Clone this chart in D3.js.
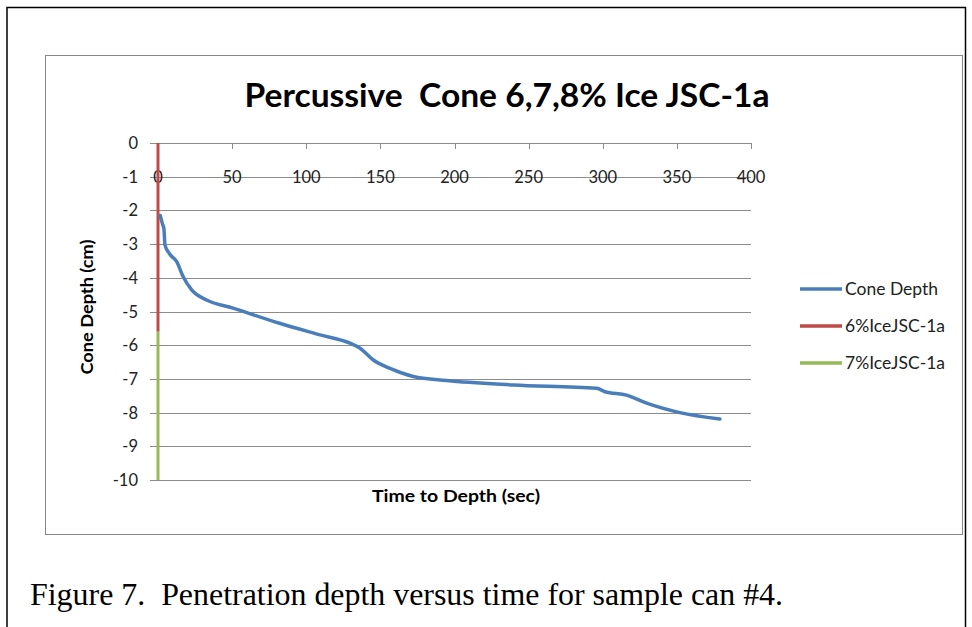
<!DOCTYPE html>
<html>
<head>
<meta charset="utf-8">
<script src="https://cdn.jsdelivr.net/npm/d3@7"></script>
<style>
  body { margin: 0; background: #fff; }
  svg text { font-family: Lato, "Open Sans", sans-serif; }
</style>
</head>
<body>
<div id="chart"></div>
<script>
// data
const coneTime  = [1.5, 3, 4, 4.7, 8, 12.6, 17, 22.7, 32.8, 50.6, 82, 110, 129.5, 136.3, 145.2, 156.5, 172.2, 194.7, 239.7, 295.9, 301.5, 316.1, 329.6, 352, 379];
const coneDepth = [-2.15, -2.4, -2.55, -3.03, -3.3, -3.52, -3.97, -4.36, -4.66, -4.9, -5.35, -5.7, -5.94, -6.09, -6.44, -6.69, -6.93, -7.05, -7.18, -7.28, -7.38, -7.48, -7.72, -8.0, -8.19];
const ice6Time  = [0, 0];
const ice6Depth = [0, -5.6];
const ice7Time  = [0, 0];
const ice7Depth = [-5.6, -10];

const xTicks = [0, 50, 100, 150, 200, 250, 300, 350, 400];
const yTicks = [0, -1, -2, -3, -4, -5, -6, -7, -8, -9, -10];
const seriesNames  = ["Cone Depth", "6%IceJSC-1a", "7%IceJSC-1a"];
const seriesColors = ["#4a7ebb", "#be4b48", "#98b954"];

const W = 972, H = 627;
const svg = d3.select("#chart").append("svg").attr("width", W).attr("height", H);

// page frame
svg.append("path").attr("d", "M7,627 V7.5 H965.5 V627")
  .attr("fill", "none").attr("stroke", "#000").attr("stroke-width", 1.5);

// chart area box
svg.append("rect").attr("x", 45.5).attr("y", 55.5).attr("width", 917).attr("height", 479)
  .attr("fill", "#fff").attr("stroke", "#868686").attr("stroke-width", 1);

const x = d3.scaleLinear().domain([0, 400]).range([158, 751]);
const y = d3.scaleLinear().domain([-10, 0]).range([480, 143]);

// horizontal gridlines
svg.append("g").selectAll("line").data(yTicks).enter().append("line")
  .attr("x1", 150).attr("x2", x(400))
  .attr("y1", d => Math.round(y(d)) + 0.5).attr("y2", d => Math.round(y(d)) + 0.5)
  .attr("stroke", "#8c8c8c").attr("stroke-width", 1);

// y labels
svg.append("g").selectAll("text").data(yTicks).enter().append("text")
  .attr("x", 138).attr("y", d => y(d) + 6)
  .attr("text-anchor", "end").attr("font-size", 16.5).attr("fill", "#222")
  .text(d => d);

// x axis ticks (axis sits at depth 0)
svg.append("g").selectAll("line").data(xTicks).enter().append("line")
  .attr("x1", d => Math.round(x(d)) + 0.5).attr("x2", d => Math.round(x(d)) + 0.5)
  .attr("y1", y(0)).attr("y2", y(0) + 6)
  .attr("stroke", "#8c8c8c");

svg.append("g").selectAll("text").data(xTicks).enter().append("text")
  .attr("x", d => x(d)).attr("y", y(-1) + 6)
  .attr("text-anchor", "middle").attr("font-size", 16.5).attr("fill", "#222")
  .text(d => d);

const line = d3.line().x(d => x(d[0])).y(d => y(d[1])).curve(d3.curveMonotoneX);
const vline = d3.line().x(d => x(d[0])).y(d => y(d[1]));

svg.append("path").datum(d3.zip(ice6Time, ice6Depth)).attr("d", vline)
  .attr("fill", "none").attr("stroke", seriesColors[1]).attr("stroke-width", 3);
svg.append("path").datum(d3.zip(ice7Time, ice7Depth)).attr("d", vline)
  .attr("fill", "none").attr("stroke", seriesColors[2]).attr("stroke-width", 3);
svg.append("path").datum(d3.zip(coneTime, coneDepth)).attr("d", line)
  .attr("fill", "none").attr("stroke", seriesColors[0]).attr("stroke-width", 3.5)
  .attr("stroke-linecap", "round").attr("stroke-linejoin", "round");

// title
svg.append("text").attr("x", 507).attr("y", 107).attr("text-anchor", "middle")
  .attr("font-size", 33).attr("font-weight", "bold").attr("fill", "#000")
  .attr("xml:space", "preserve")
  .attr("textLength", 525).attr("lengthAdjust", "spacingAndGlyphs")
  .text("Percussive  Cone 6,7,8% Ice JSC-1a");

// axis titles
svg.append("text").attr("x", 456).attr("y", 502).attr("text-anchor", "middle")
  .attr("font-size", 17).attr("font-weight", "bold").attr("fill", "#000")
  .attr("textLength", 168).attr("lengthAdjust", "spacingAndGlyphs")
  .text("Time to Depth (sec)");
svg.append("text").attr("transform", "translate(93,307) rotate(-90)").attr("text-anchor", "middle")
  .attr("font-size", 17).attr("font-weight", "bold").attr("fill", "#000")
  .attr("textLength", 135).attr("lengthAdjust", "spacingAndGlyphs")
  .text("Cone Depth (cm)");

// legend
const leg = svg.append("g").selectAll("g").data(seriesNames).enter().append("g")
  .attr("transform", (d, i) => `translate(800,${289 + i * 37})`);
leg.append("line").attr("x1", 0).attr("x2", 42).attr("y1", 0).attr("y2", 0)
  .attr("stroke", (d, i) => seriesColors[i]).attr("stroke-width", 3.5);
leg.append("text").attr("x", 45).attr("y", 6).attr("font-size", 17.5).attr("fill", "#222")
  .text(d => d);

// caption
svg.append("text").attr("x", 30).attr("y", 605)
  .style("font-family", "'Liberation Serif', 'Times New Roman', serif")
  .attr("font-size", 32).attr("fill", "#000").attr("xml:space", "preserve")
  .attr("textLength", 753).attr("lengthAdjust", "spacingAndGlyphs")
  .text("Figure 7.  Penetration depth versus time for sample can #4.");
</script>
</body>
</html>
